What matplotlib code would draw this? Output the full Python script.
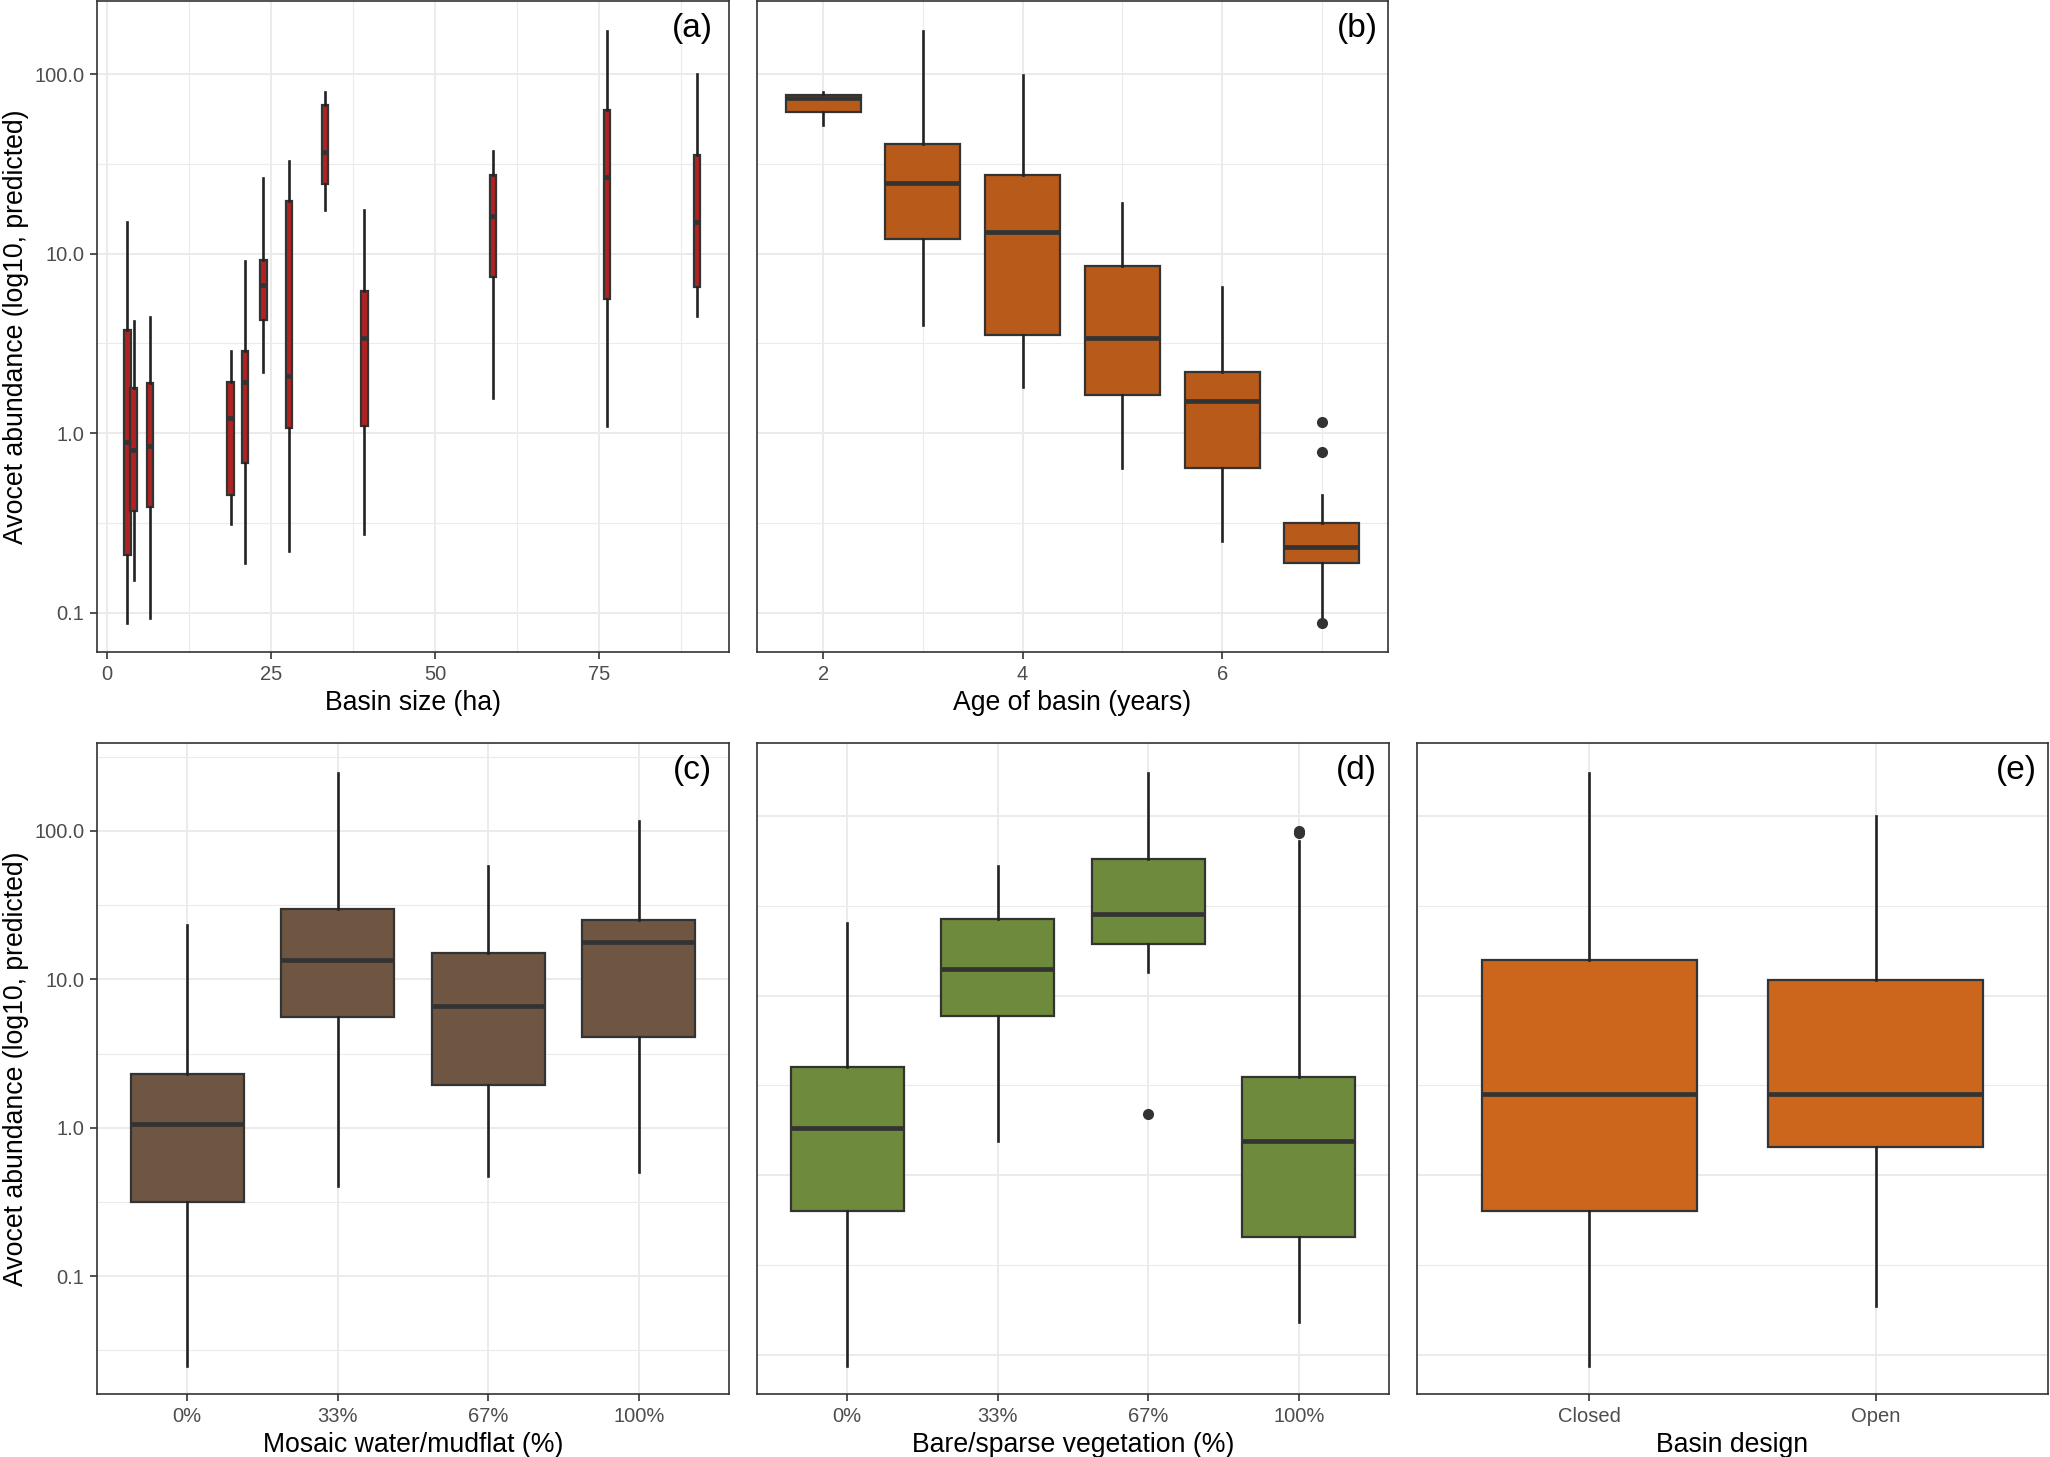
import matplotlib.pyplot as plt
import matplotlib.ticker as mticker

plt.rcParams['font.family'] = ['Liberation Sans', 'DejaVu Sans']

# ---- data (predicted avocet abundance) ----
# (a) basin size (ha)
basin_size = [3.05, 4.0, 6.5, 18.8, 21.0, 23.8, 27.7, 33.2, 39.2, 58.8, 76.2, 89.9]
a_whishi = [15.1, 4.2, 4.41, 2.85, 9.05, 26.3, 32.7, 79.5, 17.5, 37.2, 174.0, 100.0]
a_q3 = [3.75, 1.79, 1.91, 1.92, 2.85, 9.16, 19.7, 67.4, 6.17, 27.4, 63.2, 35.3]
a_med = [0.89, 0.80, 0.85, 1.22, 1.93, 6.66, 2.09, 36.8, 3.38, 16.3, 26.9, 15.0]
a_q1 = [0.209, 0.37, 0.387, 0.452, 0.68, 4.28, 1.07, 24.3, 1.10, 7.41, 5.58, 6.54]
a_whislo = [0.087, 0.152, 0.093, 0.312, 0.19, 2.18, 0.219, 17.5, 0.274, 1.56, 1.10, 4.49]

# (b) age of basin (years)
basin_age = [2, 3, 4, 5, 6, 7]
b_whishi = [79.5, 174.0, 99.4, 19.2, 6.54, 0.452]
b_q3 = [76.7, 40.8, 27.5, 8.58, 2.19, 0.315]
b_med = [73.6, 24.9, 13.2, 3.38, 1.51, 0.233]
b_q1 = [61.3, 12.1, 3.51, 1.62, 0.635, 0.189]
b_whislo = [52.3, 3.99, 1.80, 0.635, 0.25, 0.095]
b_fliers = [[], [], [], [], [], [1.15, 0.785, 0.087]]

# (c) mosaic water/mudflat
mosaic_cats = ['0%', '33%', '67%', '100%']
c_whishi = [23.1, 245.0, 57.9, 115.7]
c_q3 = [2.30, 29.8, 15.1, 25.0]
c_med = [1.06, 13.5, 6.6, 17.7]
c_q1 = [0.314, 5.58, 1.94, 4.11]
c_whislo = [0.025, 0.408, 0.475, 0.504]

# (d) bare/sparse vegetation
bare_cats = ['0%', '33%', '67%', '100%']
d_whishi = [25.5, 53.0, 175.0, 72.6]
d_q3 = [4.02, 26.9, 57.4, 3.52]
d_med = [1.84, 14.0, 28.6, 1.55]
d_q1 = [0.632, 7.67, 19.3, 0.451]
d_whislo = [0.086, 1.55, 13.5, 0.152]
d_fliers = [[], [], [2.18], [80.5, 83.0]]

# (e) basin design
design_cats = ['Closed', 'Open']
e_whishi = [175.0, 100.0]
e_q3 = [15.7, 12.3]
e_med = [2.84, 2.84]
e_q1 = [0.632, 1.43]
e_whislo = [0.086, 0.186]

y_major = [0.1, 1, 10, 100]
y_major_labels = ['0.1', '1.0', '10.0', '100.0']
y_minor = [0.0316, 0.316, 3.16, 31.6, 316]

EDGE = '#333333'
GRID = '#EBEBEB'
YTITLE = 'Avocet abundance (log10, predicted)'
TITLE_SIZE = 19.2
TICK_SIZE = 14.5

W, H = 2050, 1457
fig = plt.figure(figsize=(W / 100, H / 100), dpi=100)


def add_panel(l, t, r, b):
    return fig.add_axes([l / W, 1 - b / H, (r - l) / W, (b - t) / H])


def make_stats(lo, q1, med, q3, hi, fliers=None):
    if fliers is None:
        fliers = [[] for _ in med]
    return [dict(whislo=lo[i], q1=q1[i], med=med[i], q3=q3[i], whishi=hi[i], fliers=fliers[i])
            for i in range(len(med))]


def draw_boxes(ax, stats, pos, width, colour):
    ax.bxp(stats, positions=pos, widths=width, patch_artist=True, showcaps=False,
           manage_ticks=False,
           boxprops=dict(facecolor=colour, edgecolor=EDGE, linewidth=1.6),
           medianprops=dict(color=EDGE, linewidth=3.4, solid_capstyle='butt'),
           whiskerprops=dict(color='#222222', linewidth=1.9),
           flierprops=dict(marker='o', markerfacecolor=EDGE, markeredgecolor=EDGE,
                           markersize=7, linestyle='none'))


def style(ax, ylog_lim, show_y, tag, tag_x):
    ax.set_yscale('log')
    ax.set_ylim(10 ** ylog_lim[0], 10 ** ylog_lim[1])
    ax.yaxis.set_major_locator(mticker.FixedLocator(y_major))
    ax.yaxis.set_major_formatter(mticker.FixedFormatter(y_major_labels))
    ax.yaxis.set_minor_locator(mticker.FixedLocator(y_minor))
    ax.yaxis.set_minor_formatter(mticker.NullFormatter())
    ax.set_axisbelow(True)
    ax.grid(True, which='major', color=GRID, linewidth=1.4)
    ax.grid(True, which='minor', color=GRID, linewidth=0.8)
    ax.tick_params(which='major', direction='out', color=EDGE, labelcolor='#4D4D4D',
                   labelsize=TICK_SIZE, width=1.2, length=5, pad=4)
    ax.tick_params(which='minor', length=0)
    if not show_y:
        ax.tick_params(axis='y', which='major', length=0, labelleft=False)
    else:
        ax.set_ylabel(YTITLE, fontsize=TITLE_SIZE, labelpad=4)
    for s in ax.spines.values():
        s.set_color(EDGE)
        s.set_linewidth(1.2)
    ax.text(tag_x, 0.957, tag, transform=ax.transAxes, ha='right', va='center', fontsize=24)


top_lim = (-1.22, 2.408)
bot_lim = (-1.794, 2.592)

# (a)
ax = add_panel(97, 1, 729, 652)
draw_boxes(ax, make_stats(a_whislo, a_q1, a_med, a_q3, a_whishi), basin_size, 1.0, '#B22222')
ax.set_xlim(-1.57, 94.8)
ax.xaxis.set_major_locator(mticker.FixedLocator([0, 25, 50, 75]))
ax.xaxis.set_minor_locator(mticker.FixedLocator([12.5, 37.5, 62.5, 87.5]))
style(ax, top_lim, True, '(a)', 0.975)
ax.set_xlabel('Basin size (ha)', fontsize=TITLE_SIZE, labelpad=5)

# (b)
ax = add_panel(757, 1, 1388, 652)
draw_boxes(ax, make_stats(b_whislo, b_q1, b_med, b_q3, b_whishi, b_fliers), basin_age, 0.75, '#B85A1A')
ax.set_xlim(1.3375, 7.6625)
ax.xaxis.set_major_locator(mticker.FixedLocator([2, 4, 6]))
ax.xaxis.set_minor_locator(mticker.FixedLocator([3, 5, 7]))
style(ax, top_lim, False, '(b)', 0.984)
ax.set_xlabel('Age of basin (years)', fontsize=TITLE_SIZE, labelpad=5)


def categorical(ax, cats):
    pos = list(range(1, len(cats) + 1))
    ax.set_xlim(0.4, len(cats) + 0.6)
    ax.set_xticks(pos, cats)
    ax.xaxis.set_minor_locator(mticker.NullLocator())
    return pos


# (c)
ax = add_panel(97, 743, 729, 1394)
pos = list(range(1, len(mosaic_cats) + 1))
draw_boxes(ax, make_stats(c_whislo, c_q1, c_med, c_q3, c_whishi), pos, 0.75, '#6E5642')
categorical(ax, mosaic_cats)
style(ax, bot_lim, True, '(c)', 0.973)
ax.set_xlabel('Mosaic water/mudflat (%)', fontsize=TITLE_SIZE, labelpad=5)

# (d)
ax = add_panel(757, 743, 1389, 1394)
pos = list(range(1, len(bare_cats) + 1))
draw_boxes(ax, make_stats(d_whislo, d_q1, d_med, d_q3, d_whishi, d_fliers), pos, 0.75, '#6E8B3D')
categorical(ax, bare_cats)
style(ax, top_lim, False, '(d)', 0.981)
ax.set_xlabel('Bare/sparse vegetation (%)', fontsize=TITLE_SIZE, labelpad=5)

# (e)
ax = add_panel(1417, 743, 2048, 1394)
pos = list(range(1, len(design_cats) + 1))
draw_boxes(ax, make_stats(e_whislo, e_q1, e_med, e_q3, e_whishi), pos, 0.75, '#CD661D')
categorical(ax, design_cats)
style(ax, top_lim, False, '(e)', 0.982)
ax.set_xlabel('Basin design', fontsize=TITLE_SIZE, labelpad=5)

fig.savefig('out.png', dpi=100)
